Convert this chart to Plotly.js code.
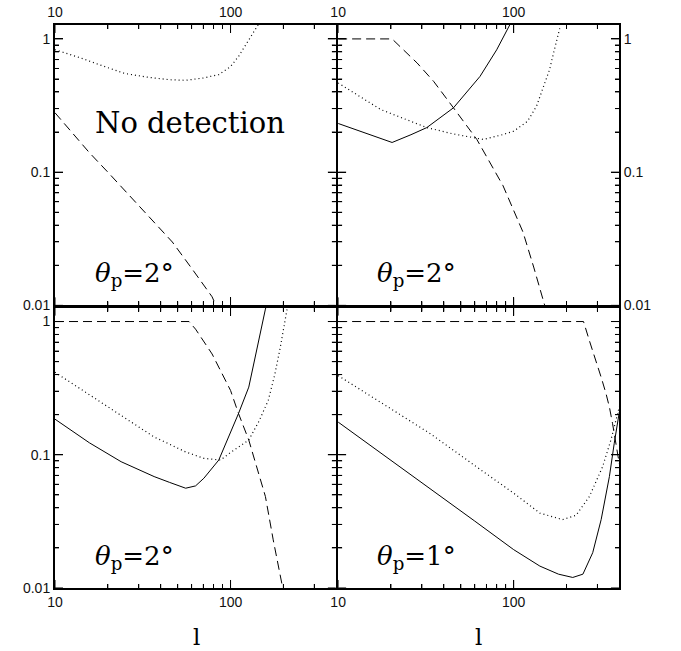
<!DOCTYPE html>
<html>
<head>
<meta charset="utf-8">
<script src="https://cdn.plot.ly/plotly-3.0.1.min.js"></script>
<style>html,body{margin:0;padding:0;background:#fff;}#chart{width:681px;height:651px;}</style>
</head>
<body>
<div id="chart"></div>
<script>
// Panel (a) top-left: theta_p = 2 deg, "No detection"
const a_dot_l = [10, 14, 17.9, 25, 34.4, 45, 55.5, 70, 85.7, 100, 111, 125, 144, 155];
const a_dot_v = [0.83, 0.72, 0.64, 0.55, 0.514, 0.494, 0.489, 0.509, 0.54, 0.62, 0.738, 0.955, 1.27, 1.5];
const a_dash_l = [10, 15.7, 20, 27.7, 35, 46.6, 60, 78.5, 84];
const a_dash_v = [0.279, 0.14, 0.1, 0.0629, 0.045, 0.0299, 0.019, 0.0116, 0.0095];

// Panel (b) top-right: theta_p = 2 deg
const b_sol_l = [10, 14, 20.3, 26, 32, 45.4, 55, 64.3, 80, 95, 100];
const b_sol_v = [0.232, 0.199, 0.167, 0.191, 0.216, 0.304, 0.409, 0.523, 0.828, 1.27, 1.45];
const b_dash_l = [10, 20.3, 28.2, 35, 45.4, 61.7, 87, 113, 130, 150, 160];
const b_dash_v = [1, 1, 0.659, 0.48, 0.304, 0.176, 0.079, 0.0355, 0.0194, 0.0103, 0.0075];
const b_dot_l = [10, 17.5, 32, 45, 67, 85, 100, 120, 135, 150, 160, 171, 183];
const b_dot_v = [0.467, 0.295, 0.216, 0.194, 0.176, 0.19, 0.203, 0.241, 0.313, 0.46, 0.587, 0.84, 1.2];

// Panel (c) bottom-left: theta_p = 2 deg
const c_sol_l = [10, 15.7, 23.8, 36.7, 45, 55.5, 63.2, 70.5, 85.7, 100, 111, 127, 138, 158, 165];
const c_sol_v = [0.185, 0.123, 0.0887, 0.0686, 0.062, 0.0561, 0.0584, 0.0667, 0.0913, 0.145, 0.204, 0.322, 0.539, 1.24, 1.5];
const c_dash_l = [10, 58, 63.2, 78.5, 100, 111, 127, 145, 158, 175, 196, 205];
const c_dash_v = [1, 1, 0.877, 0.571, 0.304, 0.204, 0.129, 0.0726, 0.0486, 0.023, 0.0103, 0.008];
const c_dot_l = [10, 17.5, 25, 36.7, 45, 55.5, 70.5, 87.7, 100, 127, 145, 164, 179, 192, 209, 220];
const c_dot_v = [0.416, 0.256, 0.189, 0.136, 0.12, 0.105, 0.094, 0.0913, 0.104, 0.129, 0.178, 0.256, 0.405, 0.64, 1.2, 1.6];

// Panel (d) bottom-right: theta_p = 1 deg
const d_sol_l = [10, 20, 33.5, 60, 100, 141, 180, 217, 248, 282, 315, 351, 374, 400];
const d_sol_v = [0.176, 0.091, 0.0561, 0.0318, 0.0194, 0.0146, 0.0127, 0.012, 0.0127, 0.0184, 0.0326, 0.0686, 0.122, 0.21];
const d_dash_l = [10, 250, 270, 295, 315, 336, 351, 366, 391, 400];
const d_dash_v = [1, 1, 0.718, 0.509, 0.382, 0.287, 0.228, 0.171, 0.097, 0.085];
const d_dot_l = [10, 33.5, 60, 100, 141, 190, 227, 270, 321, 358, 391, 400];
const d_dot_v = [0.393, 0.144, 0.083, 0.0515, 0.0365, 0.0326, 0.0352, 0.0486, 0.0813, 0.129, 0.204, 0.23];

// Tick positions
const x_major = [10, 100];
const y_major = [0.01, 0.1, 1];
const x_minor = [20, 30, 40, 50, 60, 70, 80, 90, 200, 300];
const y_minor = [0.02, 0.03, 0.04, 0.05, 0.06, 0.07, 0.08, 0.09, 0.2, 0.3, 0.4, 0.5, 0.6, 0.7, 0.8, 0.9];

const XR = [1, 2.6], YR = [-2, 0.1045];
const D0 = 0.498, D1 = 0.502;
const W = 681, H = 651, ML = 55, MR = 62, MT = 25, MB = 63;
const decPerPxX = (XR[1] - XR[0]) / (D0 * (W - ML - MR));
const decPerPxY = (YR[1] - YR[0]) / (D0 * (H - MT - MB));

const DASH = '9px,5px';
const DOT = '1px,3px';
function tr(x, y, xa, ya, dash, w) {
  return {x: x, y: y, xaxis: xa, yaxis: ya, type: 'scatter', mode: 'lines',
          line: {color: '#000', width: w || 1, dash: dash}, hoverinfo: 'skip', showlegend: false};
}
// inward tick marks on all four frame sides, placed through the axis scales
function tickTrace(xa, ya) {
  const X = [], Y = [];
  const xt = x_major.map(v => [v, 8]).concat(x_minor.map(v => [v, 4]));
  const yt = y_major.map(v => [v, 8]).concat(y_minor.map(v => [v, 4]));
  xt.forEach(([v, len]) => {
    X.push(v, v, null); Y.push(Math.pow(10, YR[0]), Math.pow(10, YR[0] + len * decPerPxY), null);
    X.push(v, v, null); Y.push(Math.pow(10, YR[1]), Math.pow(10, YR[1] - len * decPerPxY), null);
  });
  yt.forEach(([v, len]) => {
    Y.push(v, v, null); X.push(Math.pow(10, XR[0]), Math.pow(10, XR[0] + len * decPerPxX), null);
    Y.push(v, v, null); X.push(Math.pow(10, XR[1]), Math.pow(10, XR[1] - len * decPerPxX), null);
  });
  return {x: X, y: Y, xaxis: xa, yaxis: ya, type: 'scatter', mode: 'lines', connectgaps: false,
          line: {color: '#000', width: 1}, hoverinfo: 'skip', showlegend: false};
}
const data = [
  tickTrace('x', 'y'), tickTrace('x2', 'y2'), tickTrace('x3', 'y3'), tickTrace('x4', 'y4'),
  tr(a_dot_l, a_dot_v, 'x', 'y', DOT, 1.2),
  tr(a_dash_l, a_dash_v, 'x', 'y', DASH),
  tr(b_sol_l, b_sol_v, 'x2', 'y2', 'solid'),
  tr(b_dash_l, b_dash_v, 'x2', 'y2', DASH),
  tr(b_dot_l, b_dot_v, 'x2', 'y2', DOT, 1.2),
  tr(c_sol_l, c_sol_v, 'x3', 'y3', 'solid'),
  tr(c_dash_l, c_dash_v, 'x3', 'y3', DASH),
  tr(c_dot_l, c_dot_v, 'x3', 'y3', DOT, 1.2),
  tr(d_sol_l, d_sol_v, 'x4', 'y4', 'solid'),
  tr(d_dash_l, d_dash_v, 'x4', 'y4', DASH),
  tr(d_dot_l, d_dot_v, 'x4', 'y4', DOT, 1.2)
];

const tickFont = {family: 'Liberation Sans, Arial, sans-serif', size: 14, color: '#111'};
function xax(domain, anchor, side) {
  return {domain: domain, anchor: anchor, type: 'log', range: XR, side: side,
          tickmode: 'linear', tick0: 0, dtick: 1, ticks: 'inside', ticklen: 8, tickwidth: 1, tickcolor: '#000',
          minor: {tickmode: 'array', tickvals: x_minor, ticks: 'inside', ticklen: 4, tickwidth: 1, tickcolor: '#000', showgrid: false},
          showline: true, linecolor: '#000', linewidth: 2, mirror: 'ticks', showgrid: false, zeroline: false,
          tickfont: tickFont, fixedrange: true};
}
function yax(domain, anchor, side, show) {
  return {domain: domain, anchor: anchor, type: 'log', range: YR, side: side,
          tickmode: 'linear', tick0: 0, dtick: 1, ticks: 'inside', ticklen: 8, tickwidth: 1, tickcolor: '#000',
          minor: {tickmode: 'array', tickvals: y_minor, ticks: 'inside', ticklen: 4, tickwidth: 1, tickcolor: '#000', showgrid: false},
          showline: true, linecolor: '#000', linewidth: 2, mirror: 'ticks', showgrid: false, zeroline: false,
          showticklabels: show, tickfont: tickFont, fixedrange: true};
}

const serif = 'DejaVu Serif, Liberation Serif, serif';
const thetaFont = {family: serif, size: 26, color: '#000'};
function theta(x, y, deg) {
  return {xref: 'paper', yref: 'paper', x: x, y: y, xanchor: 'left', yanchor: 'middle', showarrow: false,
          text: '<i>θ</i><sub>p</sub>=' + deg + '°', font: thetaFont};
}

const layout = {
  width: W, height: H,
  margin: {l: ML, r: MR, t: MT, b: MB},
  plot_bgcolor: '#fff', showlegend: false,
  xaxis: xax([0, D0], 'y', 'top'),
  yaxis: yax([D1, 1], 'x', 'left', true),
  xaxis2: xax([D1, 1], 'y2', 'top'),
  yaxis2: yax([D1, 1], 'x2', 'right', true),
  xaxis3: xax([0, D0], 'y3', 'bottom'),
  yaxis3: yax([0, D0], 'x3', 'left', true),
  xaxis4: xax([D1, 1], 'y4', 'bottom'),
  yaxis4: yax([0, D0], 'x4', 'right', false),
  annotations: [
    {xref: 'paper', yref: 'paper', x: 0.2394, y: 0.826, xanchor: 'center', yanchor: 'middle', showarrow: false,
     text: 'No detection', font: {family: serif, size: 29, color: '#000'}},
    theta(0.0674, 0.556, '2'),
    theta(0.567, 0.556, '2'),
    theta(0.0674, 0.0533, '2'),
    theta(0.567, 0.0533, '1'),
    {xref: 'paper', yref: 'paper', x: 0.251, y: -0.087, xanchor: 'center', yanchor: 'middle', showarrow: false,
     text: 'l', font: {family: serif, size: 23, color: '#000'}},
    {xref: 'paper', yref: 'paper', x: 0.75, y: -0.087, xanchor: 'center', yanchor: 'middle', showarrow: false,
     text: 'l', font: {family: serif, size: 23, color: '#000'}}
  ]
};

Plotly.newPlot('chart', data, layout, {staticPlot: true});
</script>
</body>
</html>
